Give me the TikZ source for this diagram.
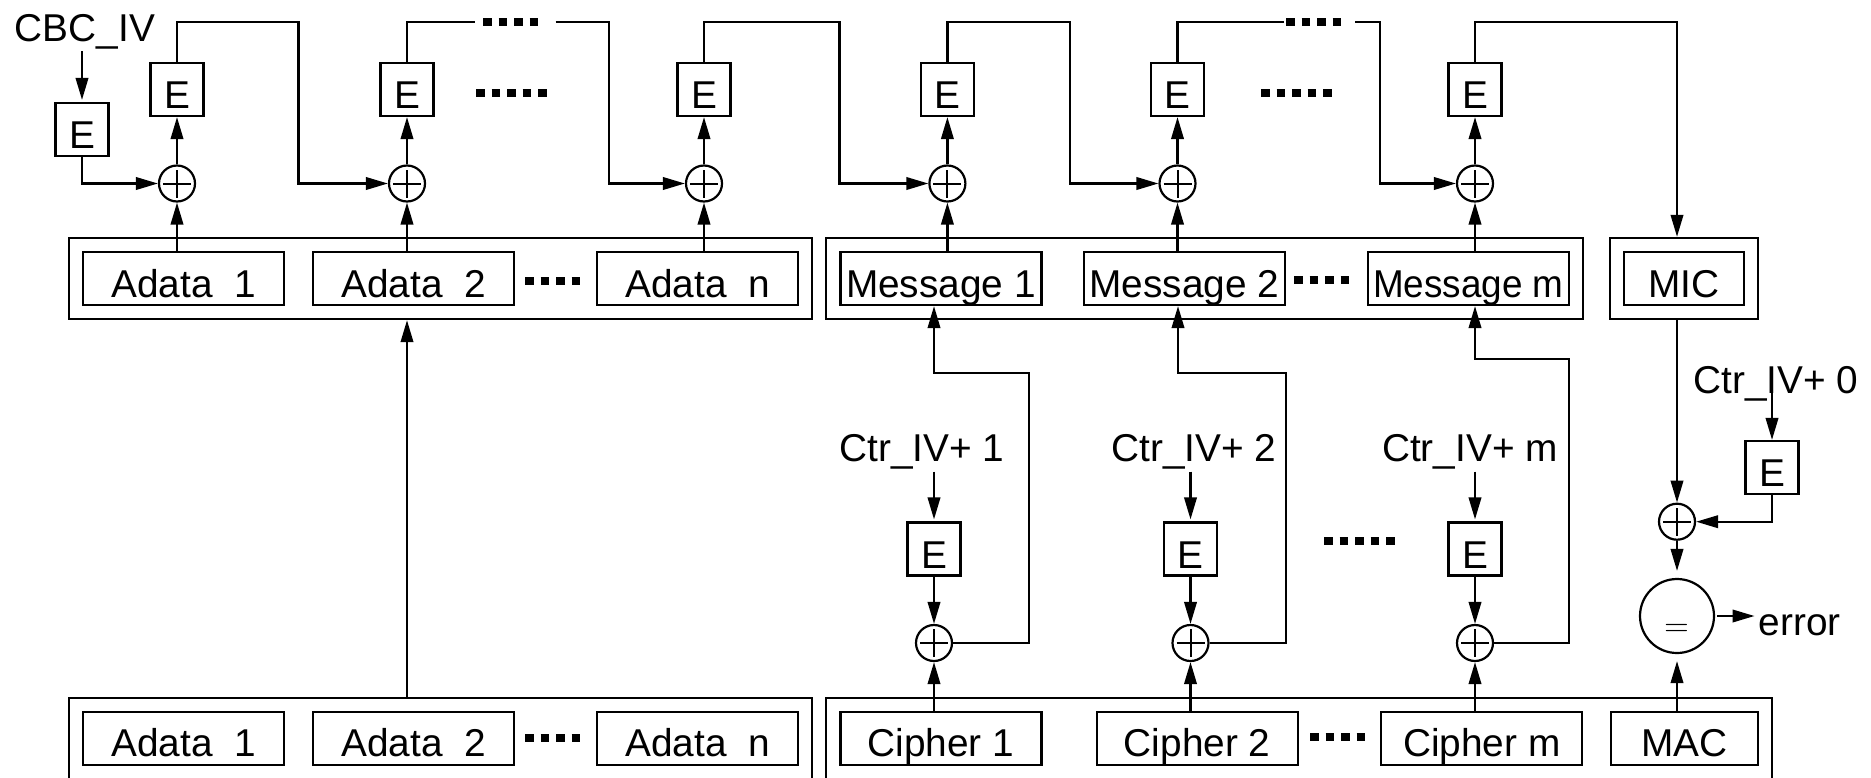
\documentclass[tikz,border=0pt]{standalone}
\usepackage{fontspec}
\setmainfont{Liberation Sans}
\usepackage{graphicx}
\usetikzlibrary{arrows.meta,fit}
\begin{document}
\begin{tikzpicture}[x=1pt,y=-1pt,
  every node/.style={font=\fontsize{38.8pt}{46pt}\selectfont},
  wire/.style={line width=2.2pt},
  arr/.style={wire,-{Triangle[length=22pt,width=12.5pt]}},
  ebox/.style={draw,wire,minimum width=53pt,minimum height=53pt,inner sep=0pt,
    text height=38.8pt,text depth=0pt},
  databox/.style={draw,wire,minimum height=53pt,minimum width=201pt,inner sep=0pt,
    text height=37pt,text depth=0pt},
  xorop/.style={draw,wire,circle,minimum size=36pt,inner sep=0pt,
    path picture={\draw[line width=2pt]
      ([xshift=-14pt]path picture bounding box.center) -- ([xshift=14pt]path picture bounding box.center)
      ([yshift=-14pt]path picture bounding box.center) -- ([yshift=14pt]path picture bounding box.center);}},
  groupbox/.style={draw,wire,inner sep=13pt},
  lbl/.style={inner sep=2pt,anchor=base},
  dotrow/.style={line width=8pt,dash pattern=on 8.5pt off 7pt},
]
\useasboundingbox (0,0) rectangle (1871,777);
\clip (0,0) rectangle (1871,777);

% ---------- CBC-MAC chain over the associated data and the message ----------
\node[lbl] (CBC) at (85,41.5) {CBC\_IV};
\node[ebox] (E0) at (82,129.5) {E};

\node[ebox] (E1) at (177,89.5) {E};
\node[ebox] (E2) at (407,89.5) {E};
\node[ebox] (E3) at (704,89.5) {E};
\node[ebox] (E4) at (947.4,89.5) {E};
\node[ebox] (E5) at (1177.5,89.5) {E};
\node[ebox] (E6) at (1475,89.5) {E};

\node[xorop] (X1) at (177,183.5) {};
\node[xorop] (X2) at (407,183.5) {};
\node[xorop] (X3) at (704,183.5) {};
\node[xorop] (X4) at (947.4,183.5) {};
\node[xorop] (X5) at (1177.5,183.5) {};
\node[xorop] (X6) at (1475,183.5) {};

% decrypted blocks
\node[databox] (A1) at (183.6,278.5) {Adata~~1};
\node[databox] (A2) at (413.5,278.5) {Adata~~2};
\node[databox] (An) at (697.5,278.5) {Adata~~n};
\node[databox] (M1) at (940.9,278.5) {Message 1};
\node[databox] (M2) at (1184.3,278.5) {Message 2};
\node[databox] (Mm) at (1468.4,278.5) {\scalebox{0.95}[1]{Message m}};
\node[databox,minimum width=120pt] (MIC) at (1684,278.5) {MIC};
\node[groupbox,fit=(A1)(An)] (OA) {};
\node[groupbox,fit=(M1)(Mm)] (OM) {};
\node[groupbox,fit=(MIC)] (OMIC) {};

% received blocks
\node[databox] (B1) at (183.8,738.3) {Adata~~1};
\node[databox] (B2) at (413.5,738.3) {Adata~~2};
\node[databox] (Bn) at (697.5,738.3) {Adata~~n};
\node[databox] (C1) at (940.9,738.3) {Cipher 1};
\node[databox] (C2) at (1197.2,738.3) {Cipher 2};
\node[databox] (Cm) at (1481.7,738.3) {Cipher m};
\node[databox,minimum width=147pt] (MAC) at (1684.7,738.3) {MAC};
\node[groupbox,fit=(B1)(Bn)] (OB) {};
\node[groupbox,fit=(C1)(MAC)] (OC) {};

% bend points of the chain
\coordinate (t1) at (298.5,22);
\coordinate (d1s) at (474.5,22);
\coordinate (d1e) at (555.5,22);
\coordinate (t2) at (609,22);
\coordinate (t3) at (839.4,22);
\coordinate (t4) at (1069.6,22);
\coordinate (d2s) at (1284,22);
\coordinate (d2e) at (1355,22);
\coordinate (t5) at (1380,22);
\coordinate (t6) at (1677,22);

\draw[arr,shorten >=2pt] (CBC.south -| E0) -- (E0);
\draw[arr] (E0) |- (X1);
\draw[arr] (E1) |- (t1) |- (X2);
\draw[wire] (E2) |- (d1s);
\draw[arr] (d1e) -- (t2) |- (X3);
\draw[arr] (E3) |- (t3) |- (X4);
\draw[arr] (E4) |- (t4) |- (X5);
\draw[wire] (E5) |- (d2s);
\draw[arr] (d2e) -- (t5) |- (X6);
\draw[arr] (E6) |- (t6) -- (t6 |- OMIC.north);

\foreach \k in {1,...,6} \draw[arr] (X\k) -- (E\k);
\draw[arr] (A1.north -| X1) -- (X1);
\draw[arr] (A2.north -| X2) -- (X2);
\draw[arr] (An.north -| X3) -- (X3);
\draw[arr] (M1.north -| X4) -- (X4);
\draw[arr] (M2.north -| X5) -- (X5);
\draw[arr] (Mm.north -| X6) -- (X6);

% associated data passed on unchanged
\draw[arr] (OB.north -| X2) -- (OA.south -| X2);

% ---------- counter-mode decryption ----------
\node[lbl] (L1) at (922,461.7) {Ctr\_IV+ 1};
\node[lbl] (L2) at (1194,461.7) {Ctr\_IV+ 2};
\node[lbl] (L3) at (1470,461.7) {Ctr\_IV+ m};
\node[ebox] (K1) at (934,549) {E};
\node[ebox] (K2) at (1190.5,549) {E};
\node[ebox] (K3) at (1475,549) {E};
\node[xorop] (P1) at (934,643) {};
\node[xorop] (P2) at (1190.5,643) {};
\node[xorop] (P3) at (1475,643) {};

\coordinate (f1) at (1028.6,372.7);
\coordinate (f2) at (1285.7,372.7);
\coordinate (f3) at (1569.3,359.3);
\coordinate (m2x) at (1178,0);

\draw[arr,shorten >=2pt] (L1.south -| K1) -- (K1);
\draw[arr,shorten >=2pt] (L2.south -| K2) -- (K2);
\draw[arr,shorten >=2pt] (L3.south -| K3) -- (K3);
\foreach \k in {1,2,3} \draw[arr] (K\k) -- (P\k);
\draw[arr] (C1.north -| P1) -- (P1);
\draw[arr] (C2.north -| P2) -- (P2);
\draw[arr] (Cm.north -| P3) -- (P3);
\draw[arr] (P1) -| (f1) -| (P1 |- M1.south);
\draw[arr] (P2) -| (f2) -| (m2x |- M2.south);
\draw[arr] (P3) -| (f3) -| (P3 |- Mm.south);

% ---------- tag check ----------
\node[lbl] (L0) at (1776,393) {Ctr\_IV+ 0};
\coordinate (L0s) at (1772,393);
\node[ebox] (K0) at (1772,467.5) {E};
\node[xorop] (P0) at (1677,521.7) {};
\node[draw,wire,circle,minimum size=74pt,inner sep=0pt,text height=40pt,text depth=0pt,
  font=\fontsize{34pt}{40pt}\selectfont\sffamily] (Q) at (1677,616) {=};
\node[lbl,anchor=base west] (ERR) at (1756.5,635) {error};

\draw[arr] (L0s) -- (K0);
\draw[arr] (K0) |- (P0);
\draw[arr] (OMIC.south -| P0) -- (P0);
\draw[arr,shorten >=7pt] (P0) -- (Q);
\draw[arr,shorten >=7pt] (MAC.north -| Q) -- (Q);
\draw[arr,shorten <=2pt,shorten >=2pt] (Q) -- (Q -| ERR.west);

% ---------- ellipses ----------
\draw[dotrow] (483,22) -- ++(55,0);
\draw[dotrow] (1286,22) -- ++(55,0);
\draw[dotrow] (476,93) -- ++(70.5,0);
\draw[dotrow] (1261,93) -- ++(70.5,0);
\draw[dotrow] (525,281) -- ++(55,0);
\draw[dotrow] (1294,280) -- ++(55,0);
\draw[dotrow] (1324,541) -- ++(70.5,0);
\draw[dotrow] (525,738) -- ++(55,0);
\draw[dotrow] (1310,737) -- ++(55,0);
\end{tikzpicture}
\end{document}
